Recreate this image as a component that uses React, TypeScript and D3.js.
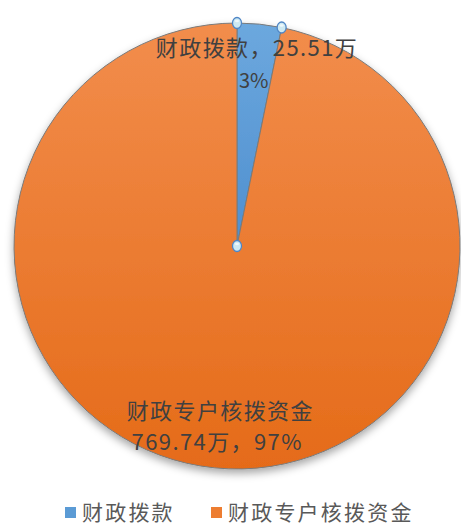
import React from 'react';
import * as d3 from 'd3';

const categories = ['财政拨款', '财政专户核拨资金'];
const values = [25.51, 769.74];
const percentLabels = ['3%', '97%'];
const colors = ['#5B9BD5', '#ED7D31'];

const width = 461;
const height = 527;
const cx = 237;
const cy = 246;
const radius = 223;
const fontFamily = '"Noto Sans CJK SC", "Noto Sans", sans-serif';

export default function App() {
  const pie = d3
    .pie<number>()
    .sort(null)
    .value((d) => d)
    .startAngle(0)
    .endAngle(2 * Math.PI);
  const arcs = pie(values);
  const arc = d3.arc<d3.PieArcDatum<number>>().innerRadius(0).outerRadius(radius);

  const pointAt = (angle: number, r: number): [number, number] => [
    Math.sin(angle) * r,
    -Math.cos(angle) * r,
  ];

  const blue = arcs[0];
  const orange = arcs[1];
  const blueMid = (blue.startAngle + blue.endAngle) / 2;
  const orangeMid = (orange.startAngle + orange.endAngle) / 2;

  const [t1x, t1y] = pointAt(blueMid, 199);
  const [t2x, t2y] = pointAt(blueMid, 166);
  const [b1x, b1y] = pointAt(orangeMid, 166);
  const [b2x, b2y] = pointAt(orangeMid, 197);

  // selection handles on the blue slice
  const handles: [number, number][] = [
    pointAt(blue.startAngle, radius),
    pointAt(blue.endAngle, radius),
    [0, 0],
  ];

  const legendX = [65, 211];

  return (
    <svg
      width={width}
      height={height}
      style={{ position: 'absolute', left: 0, top: 0, display: 'block', background: '#fff' }}
    >
      <defs>
        <linearGradient id="gOrange" x1="0" y1="0" x2="0" y2="1">
          <stop offset="0%" stopColor="#F28D4C" />
          <stop offset="100%" stopColor="#E56B19" />
        </linearGradient>
        <linearGradient id="gBlue" x1="0" y1="0" x2="0" y2="1">
          <stop offset="0%" stopColor="#6CA8DE" />
          <stop offset="100%" stopColor="#4F8FCF" />
        </linearGradient>
        <filter id="shadow" x="-10%" y="-10%" width="120%" height="125%">
          <feDropShadow dx="0" dy="4" stdDeviation="4" floodColor="#000" floodOpacity="0.35" />
        </filter>
      </defs>
      <g transform={`translate(${cx},${cy})`}>
        <g filter="url(#shadow)">
          {arcs.map((a, i) => (
            <path
              key={categories[i]}
              d={arc(a) || ''}
              fill={i === 0 ? 'url(#gBlue)' : 'url(#gOrange)'}
              stroke="#7a7a7a"
              strokeWidth={1}
            />
          ))}
        </g>
        {handles.map(([x, y], i) => (
          <g key={i}>
            <ellipse cx={x} cy={y} rx={4.5} ry={5.5} fill="#CDE9F2" stroke="#4F86C6" strokeWidth={1.3} />
            <ellipse cx={x} cy={y - 2} rx={2} ry={1.3} fill="#eef8fb" />
          </g>
        ))}
        <g
          fontFamily={fontFamily}
          fontSize={22}
          letterSpacing={1.4}
          fill="#404040"
          textAnchor="middle"
        >
          <text x={t1x} y={t1y} dy="0.35em">
            {`${categories[0]}，${values[0]}万`}
          </text>
          <text x={t2x} y={t2y} dy="0.35em" fontSize={20} letterSpacing={0}>
            {percentLabels[0]}
          </text>
          <text x={b1x} y={b1y} dy="0.35em">
            {categories[1]}
          </text>
          <text x={b2x} y={b2y} dy="0.35em">
            {`${values[1]}万，${percentLabels[1]}`}
          </text>
        </g>
      </g>
      <g fontFamily={fontFamily} fontSize={21} letterSpacing={2.2} fill="#595959">
        {categories.map((c, i) => (
          <g key={c} transform={`translate(${legendX[i]},507)`}>
            <rect x={0} y={0} width={11} height={11} fill={colors[i]} />
            <text x={17} y={6} dy="0.35em">
              {c}
            </text>
          </g>
        ))}
      </g>
    </svg>
  );
}
